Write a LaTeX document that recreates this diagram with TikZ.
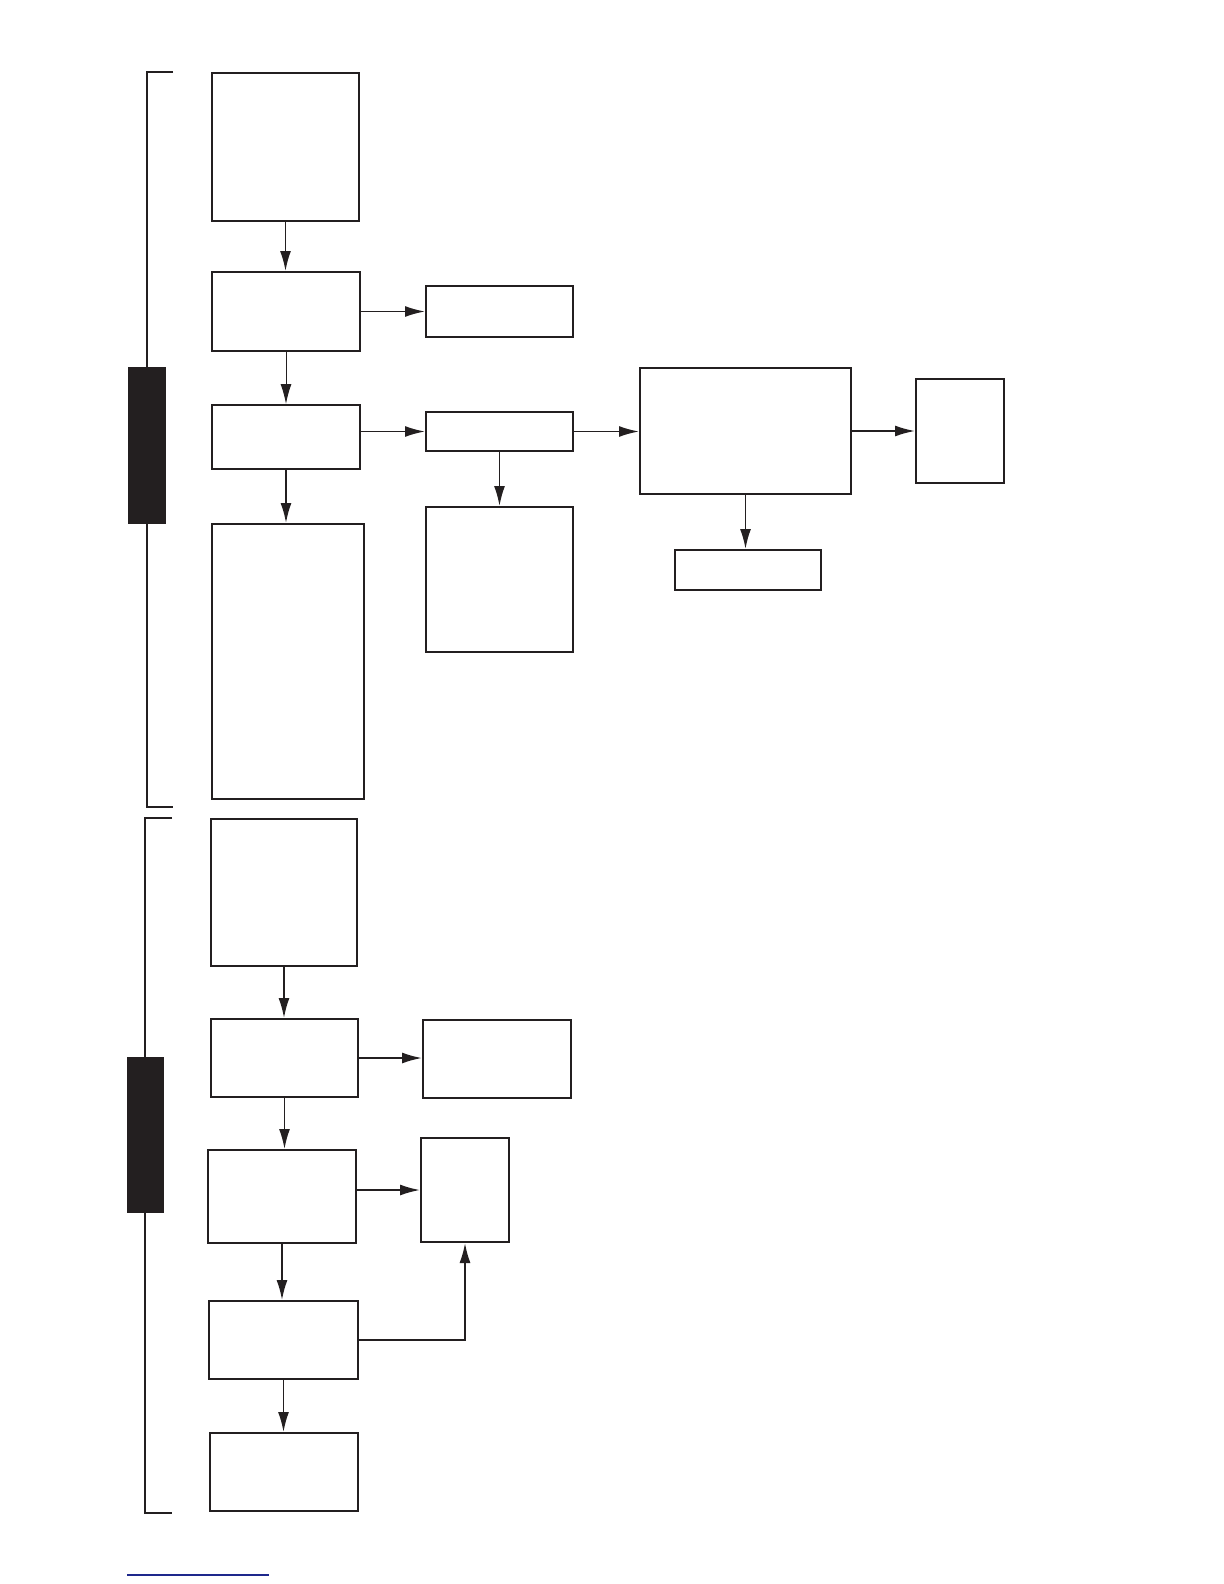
\documentclass[tikz,border=0pt]{standalone}
\usetikzlibrary{arrows.meta}
\definecolor{ink}{RGB}{35,31,32}
\definecolor{linkblue}{RGB}{30,40,140}
\tikzset{
  box/.style={draw=ink, line width=1pt, fill=white, inner sep=0pt, anchor=north west},
  arr/.style={draw=ink, line width=0.9pt, -{Latex[length=10pt,width=5.5pt]}},
  brk/.style={draw=ink, line width=0.75pt},
  bar/.style={fill=ink, draw=none}
}
\newcommand\bx[5]{\node[box, minimum width=#4*0.5pt, minimum height=#5*0.5pt] (#1) at (#2,-#3) {};}
\begin{document}
\begin{tikzpicture}[x=0.5pt,y=0.5pt]
\useasboundingbox (0,0) rectangle (1224,-1584);
% brackets
\draw[brk] (173,-72) -- (147,-72) -- (147,-807) -- (173,-807);
\fill[bar] (128,-367) rectangle (166,-524);
\draw[brk] (172,-818) -- (145,-818) -- (145,-1513) -- (172,-1513);
\fill[bar] (127,-1057) rectangle (164,-1213);
% top group boxes
\bx{b1}{211}{72}{147}{148}
\bx{b2}{211}{271}{148}{79}
\bx{b5}{425}{285}{147}{51}
\bx{b3}{211}{404}{148}{64}
\bx{b6}{425}{411}{147}{39}
\bx{b7}{639}{367}{211}{126}
\bx{b8}{915}{378}{88}{104}
\bx{b9}{674}{549}{146}{40}
\bx{b10}{425}{506}{147}{145}
\bx{b4}{211}{523}{152}{275}
% bottom group boxes
\bx{b11}{210}{818}{146}{147}
\bx{b12}{210}{1018}{147}{78}
\bx{b13}{422}{1019}{148}{78}
\bx{b14}{207}{1149}{148}{93}
\bx{b15}{420}{1137}{88}{104}
\bx{b16}{208}{1300}{149}{78}
\bx{b17}{209}{1432}{148}{78}
% connectors top
\draw[arr] (b1.south) -- (b1.south |- b2.north);
\draw[arr] (b2.east) -- (b2.east -| b5.west);
\draw[arr, line width=0.5pt] (b2.south) -- (b2.south |- b3.north);
\draw[arr] (b3.east |- b6.west) -- (b6.west);
\draw[arr] (b3.south) -- (b3.south |- b4.north);
\draw[arr] (b6.east) -- (b6.east -| b7.west);
\draw[arr] (b6.south) -- (b6.south |- b10.north);
\draw[arr] (b7.east) -- (b7.east -| b8.west);
\draw[arr] (b7.south) -- (b7.south |- b9.north);
% connectors bottom
\draw[arr] (b11.south) -- (b11.south |- b12.north);
\draw[arr] (b12.east) -- (b12.east -| b13.west);
\draw[arr] (b12.south) -- (b12.south |- b14.north);
\draw[arr] (b14.east |- b15.west) -- (b15.west);
\draw[arr] (b14.south) -- (b14.south |- b16.north);
\draw[arr] (b16.east) -| (b15.south);
\draw[arr] (b16.south) -- (b16.south |- b17.north);
% blue rule at the foot
\coordinate (l1) at (127,-1575);
\coordinate (l2) at (269,-1575);
\draw[linkblue, line width=0.6pt] (l1) -- (l2);
\end{tikzpicture}
\end{document}
